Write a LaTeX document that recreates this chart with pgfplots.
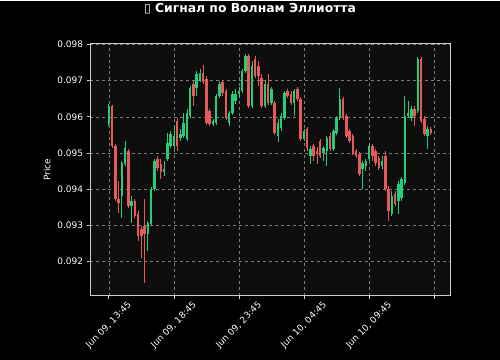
\documentclass[border=0pt]{standalone}
\usepackage{fontspec}
\setmainfont{DejaVu Sans}
\usepackage{pgfplots}
\usepackage{pgfplotstable}
\pgfplotsset{compat=1.18}
\definecolor{cup}{RGB}{38,205,120}
\definecolor{cdn}{RGB}{230,90,90}
\definecolor{axbg}{RGB}{14,14,14}
\definecolor{gridc}{RGB}{125,125,125}
\definecolor{framec}{RGB}{205,205,205}
\pgfplotstableread{
i o h l c
0 0.09580 0.09635 0.09574 0.09629
1 0.09629 0.09632 0.09514 0.09519
2 0.09519 0.09525 0.09368 0.09373
3 0.09373 0.09423 0.09335 0.09362
4 0.09382 0.09478 0.09321 0.09473
5 0.09470 0.09533 0.09464 0.09514
6 0.09506 0.09511 0.09349 0.09354
7 0.09354 0.09382 0.09307 0.09368
8 0.09368 0.09373 0.09321 0.09327
9 0.09332 0.09340 0.09258 0.09272
10 0.09291 0.09299 0.09211 0.09272
11 0.09299 0.09373 0.09140 0.09277
12 0.09277 0.09313 0.09230 0.09307
13 0.09305 0.09406 0.09299 0.09401
14 0.09401 0.09484 0.09395 0.09478
15 0.09484 0.09492 0.09451 0.09459
16 0.09470 0.09484 0.09428 0.09448
17 0.09448 0.09478 0.09437 0.09456
18 0.09484 0.09555 0.09478 0.09528
19 0.09519 0.09561 0.09514 0.09552
20 0.09519 0.09574 0.09511 0.09547
21 0.09588 0.09596 0.09506 0.09519
22 0.09541 0.09566 0.09533 0.09552
23 0.09547 0.09610 0.09541 0.09583
24 0.09539 0.09621 0.09533 0.09610
25 0.09602 0.09684 0.09596 0.09679
26 0.09690 0.09698 0.09629 0.09657
27 0.09679 0.09726 0.09657 0.09717
28 0.09698 0.09731 0.09695 0.09720
29 0.09720 0.09742 0.09690 0.09695
30 0.09704 0.09712 0.09577 0.09583
31 0.09616 0.09621 0.09574 0.09580
32 0.09580 0.09594 0.09574 0.09588
33 0.09583 0.09662 0.09577 0.09657
34 0.09657 0.09698 0.09651 0.09690
35 0.09695 0.09698 0.09657 0.09665
36 0.09671 0.09676 0.09591 0.09596
37 0.09583 0.09616 0.09574 0.09610
38 0.09610 0.09671 0.09605 0.09662
39 0.09643 0.09676 0.09635 0.09662
40 0.09662 0.09682 0.09654 0.09671
41 0.09671 0.09731 0.09665 0.09726
42 0.09726 0.09773 0.09720 0.09767
43 0.09767 0.09773 0.09624 0.09629
44 0.09629 0.09753 0.09624 0.09739
45 0.09759 0.09767 0.09706 0.09712
46 0.09739 0.09753 0.09684 0.09712
47 0.09706 0.09717 0.09624 0.09629
48 0.09629 0.09698 0.09624 0.09690
49 0.09690 0.09717 0.09632 0.09638
50 0.09638 0.09682 0.09632 0.09676
51 0.09638 0.09643 0.09550 0.09555
52 0.09547 0.09594 0.09530 0.09583
53 0.09569 0.09610 0.09561 0.09602
54 0.09596 0.09671 0.09591 0.09665
55 0.09671 0.09676 0.09651 0.09657
56 0.09662 0.09671 0.09632 0.09638
57 0.09638 0.09676 0.09602 0.09671
58 0.09676 0.09682 0.09643 0.09649
59 0.09649 0.09654 0.09533 0.09539
60 0.09539 0.09566 0.09533 0.09561
61 0.09566 0.09572 0.09506 0.09514
62 0.09492 0.09519 0.09470 0.09511
63 0.09519 0.09525 0.09478 0.09492
64 0.09506 0.09517 0.09470 0.09497
65 0.09533 0.09539 0.09486 0.09492
66 0.09500 0.09519 0.09478 0.09514
67 0.09506 0.09547 0.09464 0.09541
68 0.09547 0.09555 0.09506 0.09511
69 0.09511 0.09566 0.09506 0.09561
70 0.09555 0.09602 0.09550 0.09596
71 0.09596 0.09679 0.09591 0.09649
72 0.09649 0.09654 0.09591 0.09596
73 0.09602 0.09607 0.09541 0.09547
74 0.09561 0.09566 0.09528 0.09533
75 0.09547 0.09552 0.09495 0.09500
76 0.09506 0.09511 0.09486 0.09492
77 0.09497 0.09503 0.09437 0.09442
78 0.09456 0.09478 0.09401 0.09473
79 0.09464 0.09484 0.09451 0.09478
80 0.09484 0.09528 0.09478 0.09519
81 0.09519 0.09525 0.09478 0.09492
82 0.09506 0.09511 0.09464 0.09473
83 0.09486 0.09492 0.09453 0.09459
84 0.09464 0.09492 0.09456 0.09478
85 0.09492 0.09506 0.09395 0.09401
86 0.09401 0.09409 0.09313 0.09340
87 0.09332 0.09395 0.09327 0.09382
88 0.09387 0.09395 0.09354 0.09360
89 0.09368 0.09423 0.09332 0.09415
90 0.09376 0.09434 0.09368 0.09428
91 0.09417 0.09657 0.09412 0.09602
92 0.09602 0.09643 0.09596 0.09610
93 0.09596 0.09629 0.09588 0.09621
94 0.09621 0.09629 0.09574 0.09602
95 0.09616 0.09764 0.09610 0.09759
96 0.09759 0.09764 0.09583 0.09588
97 0.09594 0.09602 0.09547 0.09552
98 0.09547 0.09574 0.09511 0.09566
99 0.09566 0.09572 0.09550 0.09555
}\candles
\pgfplotsset{
  wick/.style={only marks, mark=*, mark size=0pt, mark options={draw=none, fill=none}, forget plot,
    error bars/.cd, y dir=both, y explicit, error mark=none,
    error bar style={draw=#1, line width=0.8bp, solid}, /pgfplots/.cd},
  body/.style={only marks, mark=*, mark size=0pt, mark options={draw=none, fill=none}, forget plot,
    error bars/.cd, y dir=both, y explicit, error mark=none,
    error bar style={draw=#1, line width=2.5bp, solid}, /pgfplots/.cd},
}
\begin{document}
\begin{tikzpicture}
\fill[black] (0,0) rectangle (500bp,359bp);
\begin{axis}[
  at={(90bp,64bp)}, anchor=south west,
  width=360bp, height=252bp, scale only axis,
  xmin=-5.8, xmax=104.9, ymin=0.09106, ymax=0.09802,
  axis background/.style={fill=axbg},
  axis line style={draw=framec, line width=0.8bp},
  grid=major,
  grid style={dashed, draw=gridc, line width=0.5bp},
  xtick={0,20,40,60,80,100},
  xticklabels={{Jun 09, 13:45},{Jun 09, 18:45},{Jun 09, 23:45},{Jun 10, 04:45},{Jun 10, 09:45},{}},
  ytick={0.092,0.093,0.094,0.095,0.096,0.097,0.098},
  scaled y ticks=false,
  yticklabel style={/pgf/number format/fixed, /pgf/number format/precision=3, /pgf/number format/fixed zerofill},
  /pgf/number format/assume math mode=true,
  tick style={draw=framec, line width=0.8bp},
  major tick length=3.5bp, tick align=outside, tick pos=left,
  ticklabel style={font=\fontsize{9}{11}\selectfont, text=white},
  xticklabel style={anchor=center, yshift=-26bp, rotate=45},
  ylabel={Price}, ylabel style={font=\fontsize{9}{11}\selectfont, text=white},
]
\addplot[restrict expr to domain={\thisrow{c}-\thisrow{o}}{0:1}, color=cup, wick=cup]
  table[x=i, y=c, y error plus expr=\thisrow{h}-\thisrow{c}, y error minus expr=\thisrow{c}-\thisrow{l}] {\candles};
\addplot[restrict expr to domain={\thisrow{c}-\thisrow{o}}{-1:0}, color=cdn, wick=cdn]
  table[x=i, y=c, y error plus expr=\thisrow{h}-\thisrow{c}, y error minus expr=\thisrow{c}-\thisrow{l}] {\candles};
\addplot[restrict expr to domain={\thisrow{c}-\thisrow{o}}{0:1}, color=cup, body=cup]
  table[x=i, y expr=(\thisrow{o}+\thisrow{c})/2, y error expr=abs(\thisrow{c}-\thisrow{o})/2] {\candles};
\addplot[restrict expr to domain={\thisrow{c}-\thisrow{o}}{-1:0}, color=cdn, body=cdn]
  table[x=i, y expr=(\thisrow{o}+\thisrow{c})/2, y error expr=abs(\thisrow{c}-\thisrow{o})/2] {\candles};
\end{axis}
\node[font=\bfseries\fontsize{12.4}{14}\selectfont, text=white] at (250bp,351bp) {▯ Сигнал по Волнам Эллиотта};
\end{tikzpicture}
\end{document}
